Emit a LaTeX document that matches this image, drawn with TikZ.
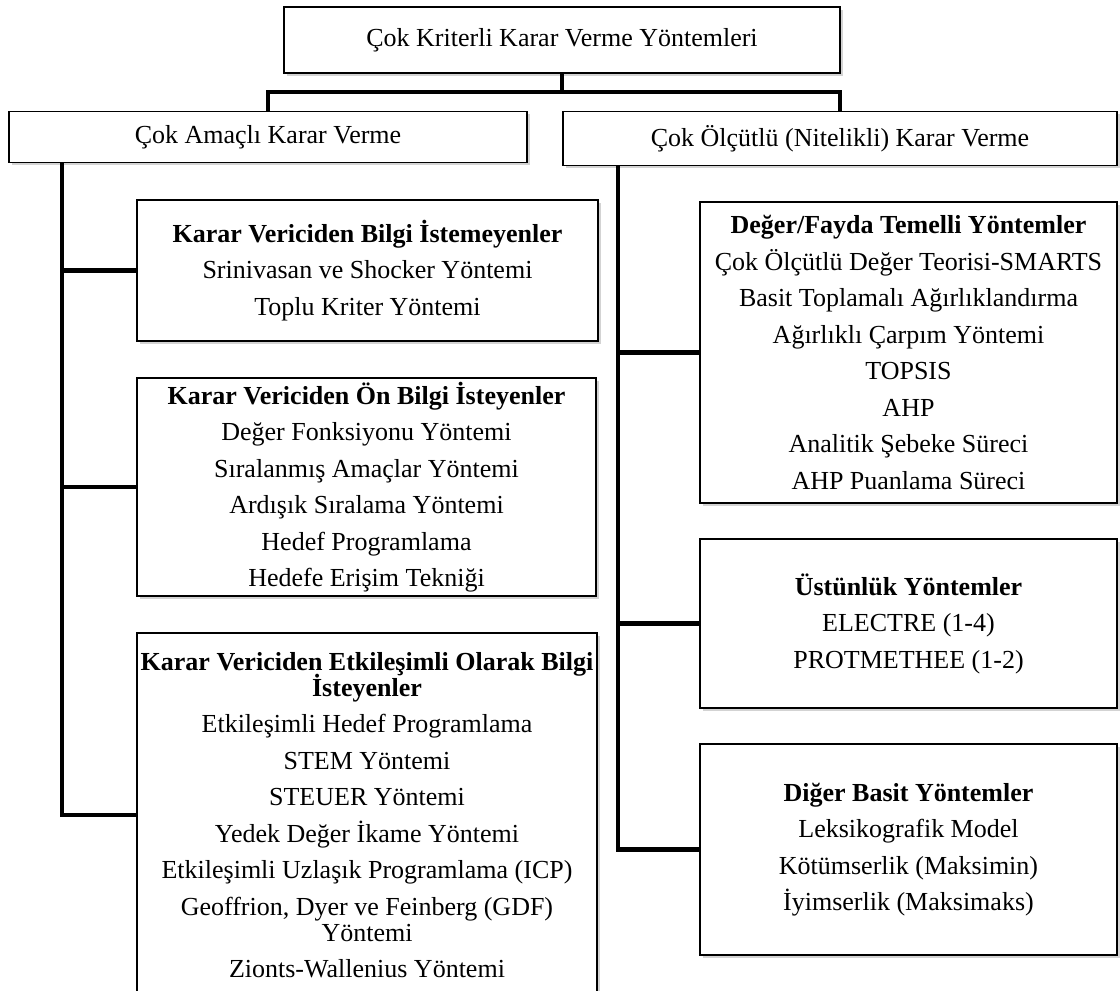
\documentclass[tikz,border=0pt]{standalone}
\usepackage{fontspec}
\setmainfont{Liberation Serif}
\usetikzlibrary{shadows}
\setlength{\lineskiplimit}{-30pt}
\tikzstyle{box}=[draw, line width=1.6pt, fill=white, inner sep=0pt, align=center, font=\fontsize{26}{26}\selectfont, drop shadow={shadow xshift=2.5pt, shadow yshift=-2.5pt, opacity=.35}]
\tikzstyle{link}=[line width=4.5pt]
\newcommand{\lgap}{\\[10.5pt]}

\begin{document}
\begin{tikzpicture}[x=1pt, y=-1pt]
\useasboundingbox (0,0) rectangle (1120,991);
\clip (0,0) rectangle (1120,991);
\draw (562,40) node[box, minimum width=556pt, minimum height=66pt] (top) {Çok Kriterli Karar Verme Yöntemleri};
\draw (268,137) node[box, minimum width=518pt, minimum height=51pt] (L1) {Çok Amaçlı Karar Verme};
\draw (840,138.5) node[box, minimum width=554pt, minimum height=54pt] (R1) {Çok Ölçütlü (Nitelikli) Karar Verme};

\draw (367.5,270.5) node[box, minimum width=461pt, minimum height=141pt] (L2) {\textbf{Karar Vericiden Bilgi İstemeyenler}\lgap Srinivasan ve Shocker Yöntemi\lgap Toplu Kriter Yöntemi};
\draw (366.5,487) node[box, minimum width=459pt, minimum height=218pt] (L3) {\textbf{Karar Vericiden Ön Bilgi İsteyenler}\lgap Değer Fonksiyonu Yöntemi\lgap Sıralanmış Amaçlar Yöntemi\lgap Ardışık Sıralama Yöntemi\lgap Hedef Programlama\lgap Hedefe Erişim Tekniği};
\draw (367,815) node[box, minimum width=460pt, minimum height=364pt] (L4) {\textbf{Karar Vericiden Etkileşimli Olarak Bilgi}\\\textbf{İsteyenler}\lgap Etkileşimli Hedef Programlama\lgap STEM Yöntemi\lgap STEUER Yöntemi\lgap Yedek Değer İkame Yöntemi\lgap Etkileşimli Uzlaşık Programlama (ICP)\lgap Geoffrion, Dyer ve Feinberg (GDF)\\Yöntemi\lgap Zionts-Wallenius Yöntemi};

\draw (908.5,352.5) node[box, minimum width=417pt, minimum height=301pt] (R2) {\textbf{Değer/Fayda Temelli Yöntemler}\lgap Çok Ölçütlü Değer Teorisi-SMARTS\lgap Basit Toplamalı Ağırlıklandırma\lgap Ağırlıklı Çarpım Yöntemi\lgap TOPSIS\lgap AHP\lgap Analitik Şebeke Süreci\lgap AHP Puanlama Süreci};
\draw (908.5,623.5) node[box, minimum width=417pt, minimum height=169pt] (R3) {\textbf{Üstünlük Yöntemler}\lgap ELECTRE (1-4)\lgap PROTMETHEE (1-2)};
\draw (908.5,849.5) node[box, minimum width=417pt, minimum height=211pt] (R4) {\textbf{Diğer Basit Yöntemler}\lgap Leksikografik Model\lgap Kötümserlik (Maksimin)\lgap İyimserlik (Maksimaks)};

\coordinate (bus) at (562,92);
\coordinate (lspine) at (62,0);
\coordinate (rspine) at (618,0);
\draw[link] (top.south) -- (bus) -| (L1.north);
\draw[link] (bus) -| (R1.north);
\draw[link] (L1.south -| lspine) |- (L4.west);
\draw[link] (L2.west -| lspine) -- (L2.west);
\draw[link] (L3.west -| lspine) -- (L3.west);
\draw[link] (R1.south -| rspine) |- (R4.west);
\draw[link] (R2.west -| rspine) -- (R2.west);
\draw[link] (R3.west -| rspine) -- (R3.west);
\end{tikzpicture}
\end{document}
